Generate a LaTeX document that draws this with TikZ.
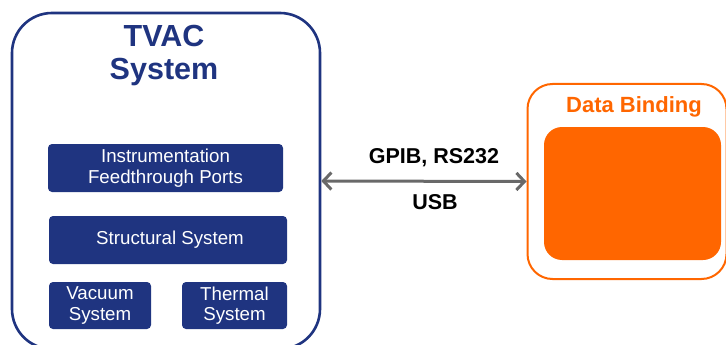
\documentclass[tikz,border=0pt]{standalone}
\usepackage{fontspec}
\setmainfont{Liberation Sans}
\usetikzlibrary{arrows.meta}
\definecolor{navy}{RGB}{31,52,128}
\definecolor{orng}{RGB}{255,102,0}
\definecolor{linkgray}{RGB}{105,105,105}
\tikzset{
  sysbox/.style={draw=navy, line width=2.6pt, rounded corners=40pt,
    minimum width=308pt, minimum height=336pt, inner sep=0pt},
  subbox/.style={fill=navy, rounded corners=4pt, text=white, align=center,
    font=\fontsize{18.7}{20.5}\selectfont, inner sep=0pt},
  bindbox/.style={draw=orng, line width=2pt, rounded corners=25pt,
    minimum width=199pt, minimum height=195pt, inner sep=0pt},
  bindfill/.style={fill=orng, rounded corners=18pt,
    minimum width=177pt, minimum height=133pt, inner sep=0pt},
  link/.style={draw=linkgray, line width=3pt,
    {Straight Barb[length=8pt,width=17pt]}-{Straight Barb[length=8pt,width=17pt]}},
  linklabel/.style={font=\fontsize{21.5}{24}\selectfont\bfseries}
}
\begin{document}
\begin{tikzpicture}[x=1pt,y=-1pt]
\useasboundingbox (0,0) rectangle (726,345);
\clip (0,0) rectangle (726,345);

% TVAC system container
\node[sysbox] (tvac) at (166,181) {};
\node[text=navy, align=center, font=\fontsize{30.5}{33}\selectfont\bfseries]
  (tvactitle) at (164,56) {TVAC\\System};

% subsystems
\node[subbox, minimum width=235pt, minimum height=48pt] (ifp) at (165.5,168)
  {Instrumentation\\Feedthrough Ports};
\node[subbox, minimum width=238pt, minimum height=48pt] (struct) at (168,240)
  {\hspace*{4pt}Structural System};
\node[subbox, minimum width=102pt, minimum height=47pt] (vac) at (100,305.5)
  {Vacuum\\System};
\node[subbox, minimum width=105pt, minimum height=47pt] (therm) at (234.5,305.5)
  {Thermal\\System};

% data binding container
\node[bindbox] (bind) at (627,181.5) {};
\node[text=orng, font=\fontsize{22}{24}\selectfont\bfseries] (bindtitle)
  at (634,107) {Data Binding};
\node[bindfill] (bindinner) at (632.5,193.5) {};

% interface link
\draw[link] (tvac.east) -- (bind.west);
\node[linklabel] (gpib) at (434,158) {GPIB, RS232};
\node[linklabel] (usb) at (435,202) {USB};
\end{tikzpicture}
\end{document}
